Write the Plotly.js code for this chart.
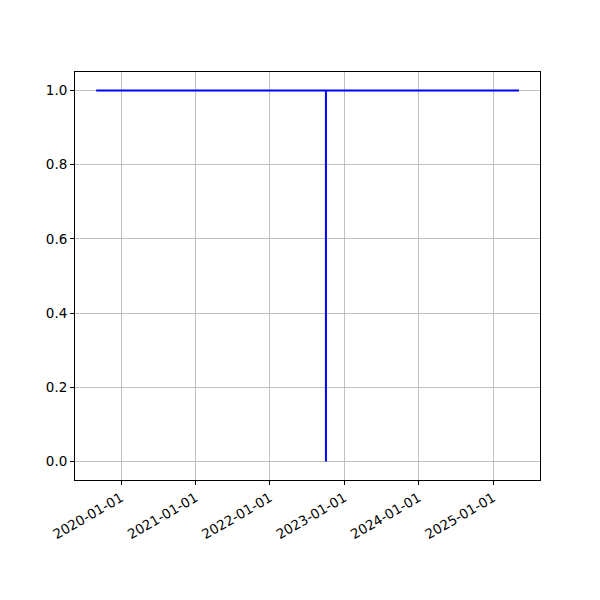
<!DOCTYPE html>
<html>
<head>
<meta charset="utf-8">
<script src="https://cdn.plot.ly/plotly-3.0.1.min.js"></script>
<style>html,body{margin:0;padding:0;background:#fff;}</style>
</head>
<body>
<div id="chart" style="width:600px;height:600px;"></div>
<script>
const dates = ["2019-09-01", "2022-10-03", "2022-10-03", "2022-10-03", "2025-05-08"];
const values = [1, 1, 0, 1, 1];
const xTickVals = ["2020-01-01", "2021-01-01", "2022-01-01", "2023-01-01", "2024-01-01", "2025-01-01"];
const yTickVals = [0, 0.2, 0.4, 0.6, 0.8, 1.0];

const trace = {
  x: dates, y: values, type: "scatter", mode: "lines",
  line: {color: "#0000ff", width: 2}, hoverinfo: "skip"
};
const axisCommon = {
  showline: true, mirror: true, linecolor: "#000", linewidth: 1,
  showgrid: true, gridcolor: "#b0b0b0", gridwidth: 0.8,
  ticks: "outside", ticklen: 4, tickwidth: 1, tickcolor: "#000",
  zeroline: false,
  tickfont: {family: "DejaVu Sans", size: 13.5, color: "#000"}
};
const layout = {
  width: 600, height: 600,
  margin: {l: 75, r: 60, t: 72, b: 120},
  paper_bgcolor: "#fff", plot_bgcolor: "#fff",
  showlegend: false,
  xaxis: Object.assign({}, axisCommon, {
    type: "date", range: ["2019-05-20", "2025-08-19"],
    tickmode: "array", tickvals: xTickVals, ticktext: xTickVals,
    tickangle: -30
  }),
  yaxis: Object.assign({}, axisCommon, {
    range: [-0.05, 1.05], tickmode: "array", tickvals: yTickVals,
    ticktext: yTickVals.map(v => v.toFixed(1))
  })
};
Plotly.newPlot("chart", [trace], layout, {staticPlot: true, displayModeBar: false});
</script>
</body>
</html>
